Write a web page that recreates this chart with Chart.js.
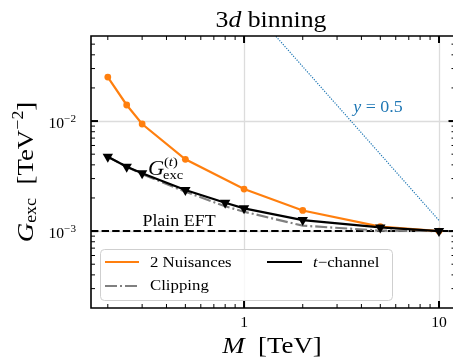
<!DOCTYPE html>
<html>
<head>
<meta charset="utf-8">
<script src="https://cdn.jsdelivr.net/npm/chart.js@4.4.0/dist/chart.umd.min.js"></script>
<style>
  html, body { margin: 0; padding: 0; background: #fff; overflow: hidden; }
  canvas { display: block; }
</style>
</head>
<body>
<canvas id="grafico" width="453" height="359"></canvas>
<script>
// Datos (M en TeV, G_exc en TeV^-2)
const masaNuis = [0.2, 0.25, 0.3, 0.5, 1, 2, 5, 10];
const gNuis = [0.0251, 0.0140, 0.0094, 0.00449, 0.00241, 0.00154, 0.0011, 0.001];

const masaCanal = [0.2, 0.25, 0.3, 0.5, 0.8, 1, 2, 5, 10];
const gCanal = [0.00473, 0.00385, 0.00335, 0.00236, 0.00181, 0.00161, 0.00126, 0.00108, 0.001];

const masaClip = [0.2, 0.25, 0.3, 0.5, 0.8, 1, 2, 5, 10];
const gClip = [0.00473, 0.00385, 0.0033, 0.00228, 0.00168, 0.0015, 0.00112, 0.00101, 0.001];

// recta y = 0.5 (extremos leídos)
const masaY05 = [1.4, 10];
const gY05 = [0.0638, 0.00125];

const nivelEFT = 0.001;

// rango de ejes y marcas
const xMin = 0.164, xMax = 11.8;
const yMin = 2e-4, yMax = 0.0593;
const xMayores = [1, 10];
const xEtiquetas = ['1', '10'];
const yMayores = [1e-3, 1e-2];
const yExponentes = ['\u22123', '\u22122'];

const SERIF = '"Liberation Serif", "DejaVu Serif", serif';
const ESTIRA = 1.12; // CM es más ancha que Times

function fuente(tam, it) {
  return (it ? 'italic ' : '') + tam + 'px ' + SERIF;
}

function puntos(xs, ys) {
  return xs.map((x, i) => ({ x, y: ys[i] }));
}

function menores(min, max) {
  const vals = [];
  for (let d = -5; d <= 2; d++) {
    for (let m = 2; m <= 9; m++) {
      const v = m * Math.pow(10, d);
      if (v > min && v < max) vals.push(v);
    }
  }
  return vals;
}

// dibuja trozos de texto (normal / itálica / sub / super) en línea
function dibujarTrozos(ctx, trozos, x, y, alinear, color) {
  let total = 0;
  trozos.forEach(tr => {
    ctx.font = fuente(tr.tam, tr.it);
    tr.w = ctx.measureText(tr.t).width * ESTIRA;
    total += tr.w;
  });
  let cx = x;
  if (alinear === 'center') cx = x - total / 2;
  if (alinear === 'right') cx = x - total;
  ctx.fillStyle = color || '#000';
  ctx.textBaseline = 'alphabetic';
  ctx.textAlign = 'left';
  trozos.forEach(tr => {
    ctx.font = fuente(tr.tam, tr.it);
    ctx.save();
    ctx.translate(cx, y + (tr.dy || 0));
    ctx.scale(ESTIRA, 1);
    ctx.fillText(tr.t, 0, 0);
    ctx.restore();
    cx += tr.w;
  });
}

function linea(ctx, x1, y1, x2, y2, color, ancho, guion) {
  ctx.save();
  ctx.strokeStyle = color;
  ctx.lineWidth = ancho;
  ctx.setLineDash(guion || []);
  ctx.beginPath();
  ctx.moveTo(x1, y1);
  ctx.lineTo(x2, y2);
  ctx.stroke();
  ctx.restore();
}

/* ================================
   REJILLA (detrás de los datos)
================================= */
const rejilla = {
  id: 'rejilla',
  beforeDatasetsDraw(chart) {
    const { ctx, chartArea: a, scales } = chart;
    xMayores.forEach(v => {
      const px = Math.round(scales.x.getPixelForValue(v)) + 0.5;
      linea(ctx, px, a.top, px, a.bottom, '#dcdcdc', 1.3);
    });
    yMayores.forEach(v => {
      const py = Math.round(scales.y.getPixelForValue(v)) + 0.5;
      linea(ctx, a.left, py, a.right, py, '#dcdcdc', 1.3);
    });
  }
};

/* ================================
   EJES, TEXTOS Y LEYENDA
================================= */
const adornos = {
  id: 'adornos',
  afterDatasetsDraw(chart) {
    const { ctx, chartArea: a, scales } = chart;
    const derecha = a.right + 2.5;

    // marcas menores hacia dentro
    menores(xMin, xMax).forEach(v => {
      const px = scales.x.getPixelForValue(v);
      linea(ctx, px, a.bottom, px, a.bottom - 4, '#000', 1);
      linea(ctx, px, a.top, px, a.top + 4, '#000', 1);
    });
    menores(yMin, yMax).forEach(v => {
      const py = scales.y.getPixelForValue(v);
      linea(ctx, a.left, py, a.left + 4, py, '#000', 1);
      linea(ctx, derecha, py, derecha - 4, py, '#000', 1);
    });
    // marcas mayores
    xMayores.forEach(v => {
      const px = scales.x.getPixelForValue(v);
      linea(ctx, px, a.bottom, px, a.bottom - 7, '#000', 2);
      linea(ctx, px, a.top, px, a.top + 7, '#000', 2);
    });
    yMayores.forEach(v => {
      const py = scales.y.getPixelForValue(v);
      linea(ctx, a.left, py, a.left + 7, py, '#000', 2);
      linea(ctx, derecha, py, derecha - 7, py, '#000', 2);
    });

    // bordes
    ctx.save();
    ctx.strokeStyle = '#000';
    ctx.lineWidth = 1.6;
    ctx.beginPath();
    ctx.moveTo(a.right + 5, a.top);
    ctx.lineTo(a.left, a.top);
    ctx.lineTo(a.left, a.bottom);
    ctx.lineTo(a.right + 5, a.bottom);
    ctx.stroke();
    ctx.restore();

    // etiquetas de marcas
    xMayores.forEach((v, i) => {
      const px = scales.x.getPixelForValue(v);
      dibujarTrozos(ctx, [{ t: xEtiquetas[i], tam: 14 }], px, a.bottom + 19, 'center');
    });
    yMayores.forEach((v, i) => {
      const py = scales.y.getPixelForValue(v);
      dibujarTrozos(ctx, [
        { t: '10', tam: 14 },
        { t: yExponentes[i], tam: 10, dy: -6 }
      ], a.left - 15, py + 7, 'right');
    });

    // título
    dibujarTrozos(ctx, [
      { t: '3', tam: 23 },
      { t: 'd', tam: 23, it: true },
      { t: ' binning', tam: 23 }
    ], 271, 27, 'center');

    // título eje x
    dibujarTrozos(ctx, [
      { t: 'M', tam: 24, it: true },
      { t: '  [TeV]', tam: 24 }
    ], 272, 353, 'center');

    // título eje y (girado)
    ctx.save();
    ctx.translate(33, 172);
    ctx.rotate(-Math.PI / 2);
    dibujarTrozos(ctx, [
      { t: 'G', tam: 24, it: true },
      { t: 'exc', tam: 16, dy: 3 },
      { t: '  [TeV', tam: 24 },
      { t: '\u22122', tam: 16, dy: -10 },
      { t: ']', tam: 24 }
    ], 0, 0, 'center');
    ctx.restore();

    // anotaciones
    dibujarTrozos(ctx, [
      { t: 'y', tam: 16, it: true },
      { t: ' = 0.5', tam: 16 }
    ], 378, 112, 'center', '#1f77b4');

    dibujarTrozos(ctx, [{ t: 'Plain EFT', tam: 16 }], 179, 226, 'center');

    dibujarTrozos(ctx, [{ t: 'G', tam: 20, it: true }], 148, 175, 'left');
    dibujarTrozos(ctx, [
      { t: '(', tam: 13 },
      { t: 't', tam: 13, it: true },
      { t: ')', tam: 13 }
    ], 164, 166, 'left');
    dibujarTrozos(ctx, [{ t: 'exc', tam: 13 }], 163, 179, 'left');

    // leyenda
    ctx.save();
    ctx.fillStyle = 'rgba(255,255,255,0.8)';
    ctx.strokeStyle = '#cfcfcf';
    ctx.lineWidth = 1;
    ctx.beginPath();
    ctx.roundRect(100.5, 249.5, 292, 51, 4);
    ctx.fill();
    ctx.stroke();
    ctx.restore();

    linea(ctx, 105, 262, 139, 262, '#ff7f0e', 2.2);
    dibujarTrozos(ctx, [{ t: '2 Nuisances', tam: 15 }], 150, 267, 'left');
    linea(ctx, 267, 262, 302, 262, '#000', 2.2);
    dibujarTrozos(ctx, [
      { t: 't', tam: 15, it: true },
      { t: '\u2212channel', tam: 15 }
    ], 313, 267, 'left');
    linea(ctx, 105, 286, 139, 286, '#808080', 2.2, [12, 3, 2, 3]);
    dibujarTrozos(ctx, [{ t: 'Clipping', tam: 15 }], 150, 290, 'left');
  }
};

const ctx = document.getElementById('grafico');

new Chart(ctx, {
  type: 'line',
  data: {
    datasets: [
      {
        label: 't-channel',
        data: puntos(masaCanal, gCanal),
        borderColor: '#000',
        backgroundColor: '#000',
        borderWidth: 2.2,
        pointStyle: 'triangle',
        pointRotation: 180,
        pointRadius: 6,
        pointBorderWidth: 0
      },
      {
        label: '2 Nuisances',
        data: puntos(masaNuis, gNuis),
        borderColor: '#ff7f0e',
        backgroundColor: '#ff7f0e',
        borderWidth: 2.2,
        pointStyle: 'circle',
        pointRadius: 3.4,
        pointBorderWidth: 0
      },
      {
        label: 'Clipping',
        data: puntos(masaClip, gClip),
        borderColor: '#808080',
        borderWidth: 2.2,
        borderDash: [12, 3, 2, 3],
        pointRadius: 0
      },
      {
        label: 'Plain EFT',
        data: [{ x: xMin, y: nivelEFT }, { x: xMax, y: nivelEFT }],
        borderColor: '#000',
        borderWidth: 2,
        borderDash: [7.4, 3.2],
        pointRadius: 0
      },
      {
        label: 'y = 0.5',
        data: puntos(masaY05, gY05),
        borderColor: '#1f77b4',
        borderWidth: 1.2,
        borderDash: [1.2, 1.4],
        pointRadius: 0
      }
    ]
  },
  options: {
    responsive: false,
    animation: false,
    devicePixelRatio: 1,
    layout: { autoPadding: false, padding: { left: 91, top: 36, right: 0, bottom: 51 } },
    plugins: {
      legend: { display: false },
      tooltip: { enabled: false }
    },
    scales: {
      x: { type: 'logarithmic', min: xMin, max: xMax, display: false },
      y: { type: 'logarithmic', min: yMin, max: yMax, display: false }
    }
  },
  plugins: [rejilla, adornos]
});
</script>
</body>
</html>
